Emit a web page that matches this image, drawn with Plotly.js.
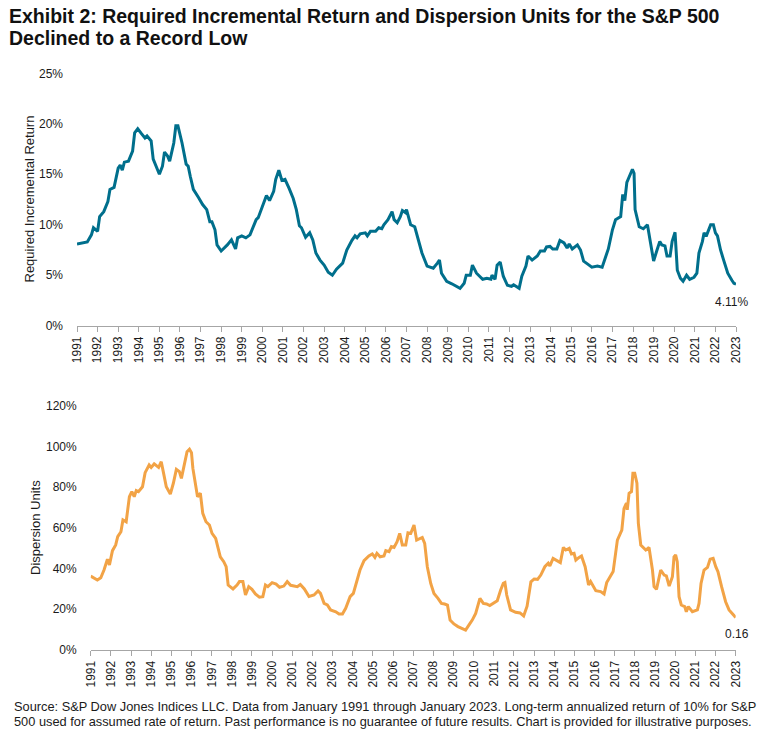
<!DOCTYPE html>
<html>
<head>
<meta charset="utf-8">
<script src="https://cdn.plot.ly/plotly-3.0.1.min.js"></script>
<style>html,body{margin:0;padding:0;background:#fff;}#chart{width:762px;height:733px;}</style>
</head>
<body>
<div id="chart"></div>
<script>
// Required Incremental Return (%) (decimal year, value)
const returnYears = [1991.0,1991.5,1991.7,1991.8,1992.0,1992.1,1992.3,1992.5,1992.6,1992.8,1993.0,1993.1,1993.2,1993.3,1993.5,1993.7,1993.8,1993.95,1994.1,1994.3,1994.4,1994.6,1994.7,1995.0,1995.15,1995.25,1995.4,1995.5,1995.7,1995.8,1995.9,1996.1,1996.3,1996.4,1996.5,1996.65,1996.9,1997.1,1997.3,1997.45,1997.55,1997.7,1997.8,1998.0,1998.3,1998.5,1998.7,1998.8,1999.0,1999.2,1999.4,1999.7,1999.8,2000.0,2000.2,2000.35,2000.55,2000.65,2000.8,2000.95,2001.1,2001.3,2001.5,2001.65,2001.8,2001.9,2002.1,2002.3,2002.45,2002.6,2002.8,2003.0,2003.2,2003.4,2003.6,2003.9,2004.1,2004.35,2004.5,2004.6,2004.75,2005.0,2005.1,2005.25,2005.5,2005.65,2005.8,2005.9,2006.1,2006.3,2006.4,2006.55,2006.7,2006.8,2006.95,2007.0,2007.2,2007.4,2007.6,2007.75,2008.0,2008.15,2008.3,2008.5,2008.6,2008.7,2008.95,2009.2,2009.45,2009.6,2009.8,2009.9,2010.1,2010.2,2010.4,2010.7,2010.9,2011.1,2011.15,2011.3,2011.4,2011.55,2011.7,2011.9,2012.1,2012.2,2012.47,2012.6,2012.8,2012.9,2013.1,2013.35,2013.5,2013.7,2013.8,2013.97,2014.1,2014.3,2014.45,2014.65,2014.8,2014.9,2015.05,2015.3,2015.45,2015.6,2015.8,2016.0,2016.27,2016.5,2016.7,2016.8,2017.0,2017.15,2017.4,2017.5,2017.6,2017.7,2017.97,2018.05,2018.1,2018.3,2018.5,2018.7,2018.85,2019.0,2019.15,2019.3,2019.4,2019.55,2019.65,2019.8,2019.9,2020.04,2020.15,2020.3,2020.43,2020.6,2020.75,2020.96,2021.1,2021.2,2021.37,2021.45,2021.55,2021.77,2021.9,2022.0,2022.1,2022.25,2022.4,2022.6,2022.8,2022.9,2023.0];
const returnValues = [8.1,8.3,9.0,9.7,9.35,10.8,11.3,12.3,13.5,13.7,15.6,15.9,15.4,16.2,16.3,17.3,19.1,19.5,19.1,18.6,18.8,18.3,16.5,15.0,15.8,17.2,16.8,16.3,18.1,19.8,19.8,18.1,16.0,15.8,14.8,13.5,12.7,12.0,11.5,10.3,10.3,9.5,8.0,7.4,8.0,8.5,7.6,8.7,8.9,8.7,9.0,10.5,10.7,11.8,12.9,12.4,13.3,14.5,15.4,14.4,14.5,13.6,12.6,11.5,9.9,9.7,8.75,9.2,8.5,7.2,6.5,6.0,5.3,5.0,5.6,6.2,7.5,8.45,8.9,8.7,9.1,9.2,8.9,9.35,9.35,9.7,9.6,10.0,10.5,11.3,10.5,10.2,10.8,11.4,11.2,11.5,10.0,9.8,8.2,7.2,5.9,5.8,5.7,6.2,6.5,5.2,4.4,4.15,3.9,3.7,4.2,5.0,5.0,6.0,5.2,4.6,4.7,4.6,5.0,4.6,6.0,6.3,4.9,4.0,3.9,4.05,3.7,4.9,5.9,6.9,6.5,6.9,7.4,7.4,7.8,7.85,7.6,7.6,8.45,8.2,7.7,8.1,7.6,8.0,7.5,6.4,6.1,5.8,5.9,5.8,7.0,7.6,9.5,10.5,10.8,13.0,12.4,14.2,15.5,15.1,11.5,9.8,9.6,10.0,8.2,6.4,7.4,8.35,8.0,7.9,6.9,6.9,8.35,9.25,5.5,4.7,4.4,5.0,4.6,4.8,5.2,7.2,8.35,9.2,8.85,10.0,10.0,9.2,8.9,7.5,6.5,5.2,4.5,4.2,4.11];

// Dispersion Units (%) (decimal year, value)
const dispersionYears = [1991.0,1991.2,1991.33,1991.5,1991.66,1991.83,1991.93,1992.08,1992.24,1992.34,1992.5,1992.6,1992.76,1992.92,1993.04,1993.16,1993.26,1993.37,1993.57,1993.7,1993.9,1994.0,1994.15,1994.37,1994.5,1994.6,1994.75,1994.95,1995.1,1995.25,1995.4,1995.5,1995.66,1995.78,1995.9,1996.0,1996.07,1996.19,1996.3,1996.44,1996.56,1996.72,1996.89,1997.02,1997.2,1997.32,1997.43,1997.6,1997.72,1997.82,1998.06,1998.26,1998.38,1998.55,1998.68,1998.84,1999.0,1999.17,1999.37,1999.54,1999.67,1999.79,2000.0,2000.2,2000.37,2000.58,2000.75,2000.92,2001.08,2001.25,2001.4,2001.6,2001.83,2002.08,2002.28,2002.4,2002.58,2002.74,2002.9,2003.16,2003.32,2003.49,2003.65,2003.87,2004.03,2004.2,2004.36,2004.56,2004.8,2004.97,2005.1,2005.2,2005.36,2005.55,2005.64,2005.8,2005.92,2006.05,2006.2,2006.33,2006.46,2006.63,2006.74,2006.88,2007.04,2007.17,2007.34,2007.45,2007.57,2007.7,2007.87,2008.03,2008.23,2008.4,2008.56,2008.7,2008.83,2009.02,2009.22,2009.44,2009.6,2009.77,2009.93,2010.1,2010.31,2010.48,2010.64,2010.8,2011.0,2011.17,2011.34,2011.47,2011.55,2011.64,2011.83,2012.08,2012.3,2012.48,2012.65,2012.84,2013.0,2013.17,2013.33,2013.53,2013.7,2013.78,2013.94,2014.16,2014.3,2014.45,2014.57,2014.74,2014.85,2014.98,2015.07,2015.23,2015.35,2015.53,2015.7,2015.8,2016.06,2016.3,2016.47,2016.6,2016.8,2016.92,2017.13,2017.35,2017.46,2017.58,2017.62,2017.71,2017.83,2017.9,2017.99,2018.1,2018.17,2018.29,2018.54,2018.7,2018.87,2018.95,2019.07,2019.28,2019.45,2019.56,2019.7,2019.86,2019.94,2020.02,2020.1,2020.19,2020.3,2020.47,2020.55,2020.65,2020.85,2021.1,2021.18,2021.28,2021.43,2021.6,2021.73,2021.88,2022.01,2022.12,2022.3,2022.5,2022.67,2022.87,2023.0];
const dispersionValues = [36.3,35.2,34.4,35.5,39.3,44.6,41.8,48.8,51.6,55.7,58.1,63.9,63.0,75.3,77.8,75.3,78.3,77.8,80.2,87.1,90.9,89.7,91.4,89.7,92.5,87.6,80.2,76.6,81.9,88.7,87.6,84.3,90.9,97.4,98.6,96.9,89.2,81.9,75.3,77.0,67.1,63.0,61.4,57.3,54.8,50.0,45.8,43.4,40.9,31.9,30.0,31.9,33.6,33.6,27.0,31.1,29.8,27.5,25.9,26.2,31.9,31.1,33.1,32.4,30.8,31.4,33.6,31.8,31.4,31.1,32.2,30.0,26.3,27.0,29.0,27.8,22.9,22.1,19.7,18.8,17.7,17.7,20.5,26.2,27.8,33.6,39.3,43.9,46.2,47.2,45.5,47.5,45.8,46.2,48.8,48.3,50.8,50.4,53.2,57.3,51.6,51.6,57.6,57.3,61.4,54.0,54.8,55.3,52.4,40.9,32.7,27.8,25.4,22.9,22.6,22.1,14.7,12.8,11.5,10.7,9.8,12.3,14.7,18.0,25.4,22.9,22.6,21.8,22.9,24.2,29.5,32.7,33.1,27.0,19.7,18.5,18.2,16.7,21.5,33.5,34.9,34.7,36.8,40.9,42.6,41.3,45.0,43.9,42.9,50.4,49.1,49.9,47.2,47.5,44.2,45.5,46.2,40.9,31.9,33.6,29.1,28.7,27.5,33.1,36.8,38.5,54.0,58.9,69.6,72.1,68.8,77.0,77.8,86.8,86.8,81.9,62.2,51.6,49.1,50.4,39.3,31.1,29.8,39.3,36.8,36.4,31.4,36.0,45.8,46.7,43.4,26.2,22.1,21.3,18.8,21.3,18.8,19.7,22.9,32.7,39.3,40.6,44.6,45.0,40.9,38.5,31.1,23.7,19.7,17.2,16.0];

const tickYears = [];
for (let y = 1991; y <= 2023; y++) tickYears.push(y);
const tickYearLabels = tickYears.map(String);
const returnTicks = [0,5,10,15,20,25];
const returnTickLabels = returnTicks.map(v => v + '%');
const dispersionTicks = [0,20,40,60,80,100,120];
const dispersionTickLabels = dispersionTicks.map(v => v + '%');

const titleLines = ['Exhibit 2: Required Incremental Return and Dispersion Units for the S&P 500', 'Declined to a Record Low'];
const footerLines = ['Source: S&P Dow Jones Indices LLC. Data from January 1991 through January 2023. Long-term annualized return of 10% for S&P',
  '500 used for assumed rate of return. Past performance is no guarantee of future results. Chart is provided for illustrative purposes.'];

const W = 762, H = 733;
const px = x => x / W;
const py = y => 1 - y / H;
const FONT = '"Liberation Sans", Arial, sans-serif';
const TXT = '#1a1a1a';
const AX = '#a6a6a6';

const lastR = returnValues[returnValues.length - 1];
const lastD = dispersionValues[dispersionValues.length - 1];

const traces = [
  {x: returnYears, y: returnValues, type: 'scatter', mode: 'lines', xaxis: 'x', yaxis: 'y',
   line: {color: '#006F8C', width: 3}, hoverinfo: 'skip'},
  {x: dispersionYears, y: dispersionValues, type: 'scatter', mode: 'lines', xaxis: 'x2', yaxis: 'y2',
   line: {color: '#F2A346', width: 3}, hoverinfo: 'skip'}
];

const xBase = {
  range: [1991, 2023], tickmode: 'array', tickvals: tickYears, ticktext: tickYearLabels, tickangle: -90,
  ticks: 'outside', ticklen: 5, tickcolor: AX, tickwidth: 1,
  showline: true, linecolor: AX, linewidth: 1, showgrid: false, zeroline: false,
  tickfont: {family: FONT, size: 12, color: TXT}, fixedrange: true
};
const yBase = {
  showgrid: false, zeroline: false, showline: false, ticks: '', tickmode: 'array',
  ticklabelstandoff: 13,
  tickfont: {family: FONT, size: 12, color: TXT}, fixedrange: true
};

const annotations = [
  {text: 'Required Incremental Return', xref: 'paper', yref: 'paper', x: px(29), y: py(199.5),
   xanchor: 'center', yanchor: 'middle',
   textangle: -90, showarrow: false, font: {family: FONT, size: 13, color: TXT}},
  {text: 'Dispersion Units', xref: 'paper', yref: 'paper', x: px(35), y: py(528),
   xanchor: 'center', yanchor: 'middle',
   textangle: -90, showarrow: false, font: {family: FONT, size: 13, color: TXT}},
  {text: lastR.toFixed(2) + '%', xref: 'x', yref: 'y', x: returnYears[returnYears.length - 1], y: lastR,
   xanchor: 'center', yanchor: 'top', xshift: -5, yshift: -9, showarrow: false,
   font: {family: FONT, size: 12, color: TXT}},
  {text: (lastD / 100).toFixed(2), xref: 'x2', yref: 'y2', x: dispersionYears[dispersionYears.length - 1], y: lastD,
   xanchor: 'center', yanchor: 'top', xshift: 1, yshift: -8, showarrow: false,
   font: {family: FONT, size: 12, color: TXT}}
];
const titleY = [16, 38];
titleLines.forEach((t, i) => annotations.push({
  text: '<b>' + t + '</b>', xref: 'paper', yref: 'paper', x: px(7), y: py(titleY[i]),
  xanchor: 'left', yanchor: 'middle', showarrow: false, font: {family: FONT, size: 19.5, color: '#111'}
}));
const footerY = [706, 721];
footerLines.forEach((t, i) => annotations.push({
  text: t, xref: 'paper', yref: 'paper', x: px(12), y: py(footerY[i]),
  xanchor: 'left', yanchor: 'middle', showarrow: false, font: {family: FONT, size: 12.8, color: TXT}
}));

const layout = {
  width: W, height: H,
  margin: {l: 0, r: 0, t: 0, b: 0},
  paper_bgcolor: '#fff', plot_bgcolor: '#fff',
  showlegend: false,
  font: {family: FONT, color: TXT},
  xaxis: Object.assign({}, xBase, {domain: [px(77), px(736)], anchor: 'y'}),
  yaxis: Object.assign({}, yBase, {domain: [py(325.7), py(73.3)], range: [0, 25], tickvals: returnTicks, ticktext: returnTickLabels, anchor: 'x'}),
  xaxis2: Object.assign({}, xBase, {domain: [px(90.7), px(735.7)], anchor: 'y2'}),
  yaxis2: Object.assign({}, yBase, {domain: [py(650), py(405.7)], range: [0, 120], tickvals: dispersionTicks, ticktext: dispersionTickLabels, anchor: 'x2'}),
  annotations: annotations
};

Plotly.newPlot('chart', traces, layout, {staticPlot: true, displayModeBar: false});
</script>
</body>
</html>
